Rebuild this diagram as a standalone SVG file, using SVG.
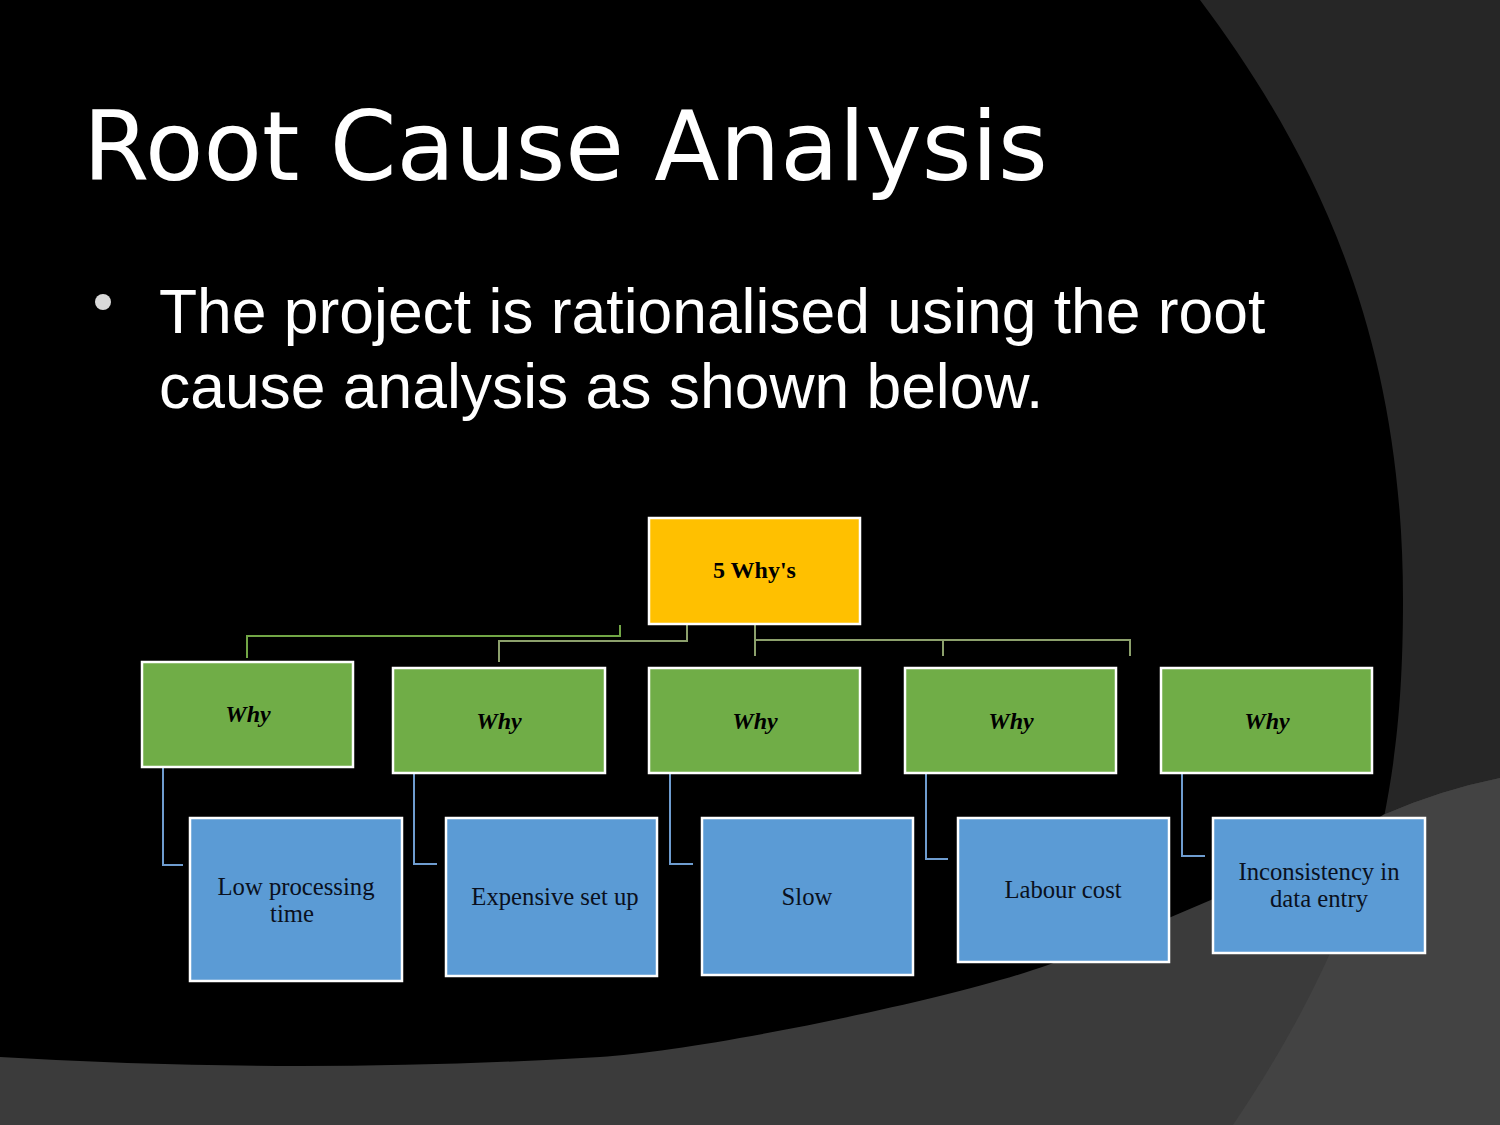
<svg xmlns="http://www.w3.org/2000/svg" width="1500" height="1125" viewBox="0 0 1500 1125">
<style>
.title{font-family:"DejaVu Sans",sans-serif;font-size:95.5px;fill:#ffffff}
.body{font-family:"Liberation Sans",Arial,sans-serif;font-size:62.4px;fill:#ffffff}
.box{stroke:#ffffff;stroke-width:2.5}
.root{fill:#ffc000}
.why{fill:#70ad47}
.cause{fill:#5b9bd5}
.t-root{font-family:"Liberation Serif",serif;font-weight:bold;font-size:24px;fill:#000;text-anchor:middle}
.t-why{font-family:"Liberation Serif",serif;font-weight:bold;font-style:italic;font-size:24px;fill:#000;text-anchor:middle}
.t-cause{font-family:"Liberation Serif",serif;font-size:24.7px;fill:#0a1020;text-anchor:middle}
.cg{fill:none;stroke:#8ca06c;stroke-width:2}
.cg2{fill:none;stroke:#72a646;stroke-width:2}
.cb{fill:none;stroke:#6e9ccf;stroke-width:2}
</style>
<g id="background">
<rect x="0" y="0" width="1500" height="1125" fill="#000000"/>
<path d="M1200,0 C1320,160 1403,340 1403,600 C1403,720 1392,790 1370,880 L1340,1125 L1500,1125 L1500,0 Z" fill="#262626"/>
<path d="M0,1057 Q300,1075 600,1057 C700,1051 950,1000 1048,965 C1148,929 1300,865 1383,815 Q1440,790 1500,778 L1500,1125 L0,1125 Z" fill="#3b3b3b"/>
<path d="M1383,815 Q1440,790 1500,778 L1500,1125 L1233,1125 C1290,1040 1340,950 1383,815 Z" fill="#434343"/>
</g>
<g id="title">
<text class="title" x="83" y="180">Root Cause Analysis</text>
</g>
<g id="bullet">
<circle cx="103" cy="302" r="8" fill="#d9d9d9"/>
<text class="body" x="159" y="333">The project is rationalised using the root</text>
<text class="body" x="159" y="408">cause analysis as shown below.</text>
</g>
<g id="connectors">
<polyline class="cg2" points="620,625 620,636 247,636 247,658"/>
<polyline class="cg" points="687,624 687,641 499,641 499,662"/>
<polyline class="cg" points="755,624 755,656"/>
<polyline class="cg" points="755,640 1130,640 1130,656"/>
<polyline class="cg" points="943,640 943,656"/>
<polyline class="cb" points="163,767 163,865 183,865"/>
<polyline class="cb" points="414,773 414,864 437,864"/>
<polyline class="cb" points="670,773 670,864 693,864"/>
<polyline class="cb" points="926,773 926,859 948,859"/>
<polyline class="cb" points="1182,773 1182,856 1205,856"/>
</g>
<g id="node-root">
<rect class="box root" x="649" y="518" width="211" height="106"/>
<text class="t-root" x="754.5" y="578">5 Why's</text>
</g>
<g id="node-why1">
<rect class="box why" x="142" y="662" width="211" height="105"/>
<text class="t-why" x="248" y="722">Why</text>
</g>
<g id="node-why2">
<rect class="box why" x="393" y="668" width="212" height="105"/>
<text class="t-why" x="499" y="729">Why</text>
</g>
<g id="node-why3">
<rect class="box why" x="649" y="668" width="211" height="105"/>
<text class="t-why" x="755" y="729">Why</text>
</g>
<g id="node-why4">
<rect class="box why" x="905" y="668" width="211" height="105"/>
<text class="t-why" x="1011" y="729">Why</text>
</g>
<g id="node-why5">
<rect class="box why" x="1161" y="668" width="211" height="105"/>
<text class="t-why" x="1267" y="729">Why</text>
</g>
<g id="node-cause1">
<rect class="box cause" x="190" y="818" width="212" height="163"/>
<text class="t-cause" x="296" y="895">Low processing</text>
<text class="t-cause" x="292" y="922">time</text>
</g>
<g id="node-cause2">
<rect class="box cause" x="446" y="818" width="211" height="158"/>
<text class="t-cause" x="555" y="905">Expensive set up</text>
</g>
<g id="node-cause3">
<rect class="box cause" x="702" y="818" width="211" height="157"/>
<text class="t-cause" x="807" y="905">Slow</text>
</g>
<g id="node-cause4">
<rect class="box cause" x="958" y="818" width="211" height="144"/>
<text class="t-cause" x="1063" y="898">Labour cost</text>
</g>
<g id="node-cause5">
<rect class="box cause" x="1213" y="818" width="212" height="135"/>
<text class="t-cause" x="1319" y="880">Inconsistency in</text>
<text class="t-cause" x="1319" y="907">data entry</text>
</g>
</svg>
